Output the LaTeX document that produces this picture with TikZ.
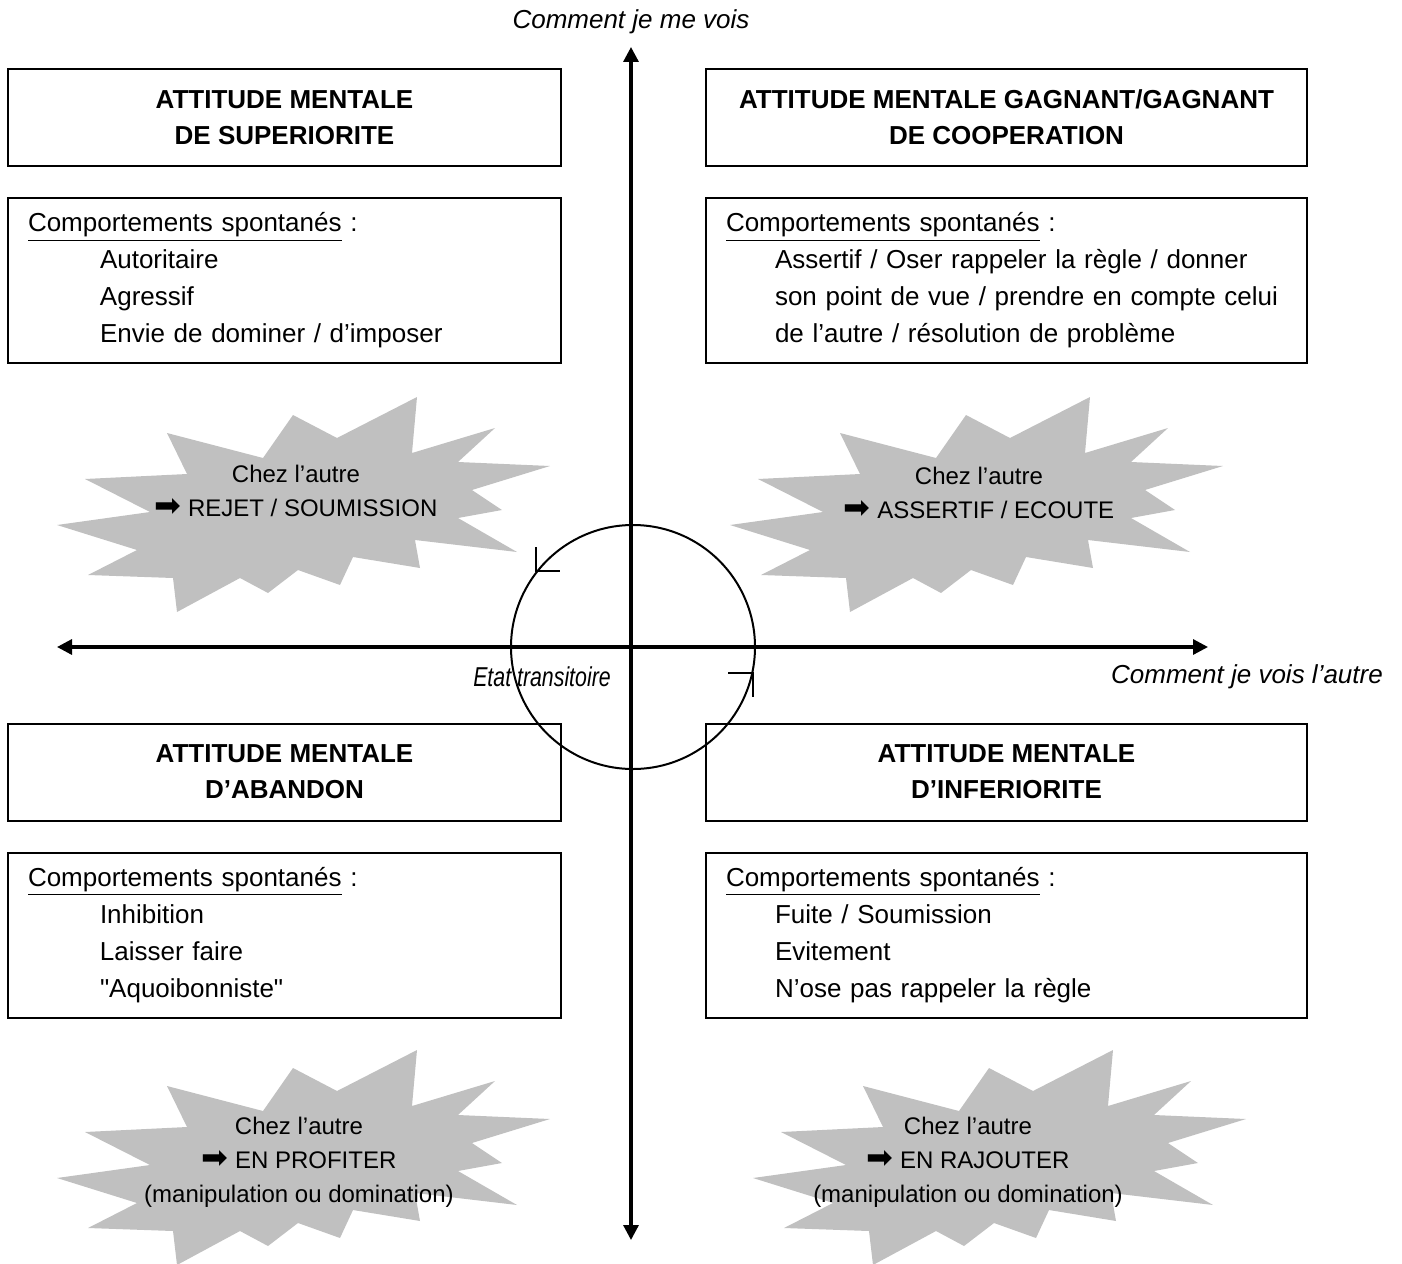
\documentclass[tikz,border=0pt]{standalone}
\usepackage{fontspec}
\setmainfont{Liberation Sans}
\newfontfamily\arrowfont{DejaVu Sans}
\usepackage{graphicx}
\usepackage{tikz}
\usetikzlibrary{
  arrows.meta,
  positioning,
}
\tikzstyle{axis} = [
  {Triangle[length=7.5pt,width=7.5pt]}-{Triangle[length=7.5pt,width=7.5pt]},
  line width=1.6pt,
]
\tikzstyle{titlebox} = [
  draw,
  rectangle,
  line width=1pt,
  minimum height=48.5pt,
  align=center,
  font=\fontsize{13pt}{18pt}\selectfont\bfseries,
]
\tikzstyle{leftbox} = [
  draw,
  rectangle,
  line width=1pt,
  minimum height=82.5pt,
  inner xsep=10pt,
  text width=256.5pt,
  align=left,
  font=\fontsize{13pt}{18.5pt}\selectfont,
]
\tikzstyle{rightbox} = [leftbox, text width=280.5pt]
\tikzstyle{bursttext} = [align=center, font=\fontsize{12pt}{17pt}\selectfont]
\tikzstyle{axislabel} = [font=\fontsize{13pt}{16pt}\selectfont\itshape]
\tikzstyle{tick} = [line width=0.6pt]
\definecolor{burstgray}{RGB}{192, 192, 192}
\tikzset{
  burst/.pic={
    \fill[burstgray] (-129,-58) -- (-33,-33) -- (-3,-76) -- (41,-53) -- (121,-94)
      -- (116,-38) -- (199,-63) -- (162,-29) -- (254,-25) -- (176,-1) -- (206,19)
      -- (162,27) -- (221,61) -- (119,49) -- (124,77) -- (57,66) -- (44,94)
      -- (2,79) -- (-28,102) -- (-56,87) -- (-119,121) -- (-123,87) -- (-208,84)
      -- (-159,59) -- (-239,34) -- (-146,21) -- (-211,-12) -- (-109,-17) -- cycle;
  },
}
\newcommand{\fleche}{{\arrowfont\fontsize{16pt}{17pt}\selectfont ➡}}
\newcommand{\retrait}{\hspace*{36pt}}
\newcommand{\retraitb}{\hspace*{24.5pt}}

\begin{document}
\begin{tikzpicture}[x=0.5pt, y=-0.5pt, node distance=15pt and 71.5pt]
        \useasboundingbox (0,0) rectangle (1402,1263);

        % bursts
        \pic at (296,491) {burst};
        \pic at (969,491) {burst};
        \pic at (296,1144) {burst};
        \pic at (992,1144) {burst};

        % axes
        \coordinate (west) at (57,647);
        \coordinate (east) at (1208,647);
        \coordinate (north) at (631,47);
        \coordinate (south) at (631,1240);
        \draw[axis] (west) -- (east);
        \draw[axis] (south) -- (north);

        \node[axislabel] (meLabel) at (631,22) {Comment je me vois};
        \node[axislabel] (autreLabel) at (1247,677) {Comment je vois l’autre};

        % cycle
        \node[draw,circle,line width=1pt,minimum size=122pt,inner sep=0pt] (cycle) at (633,647) {};
        \coordinate (ulMark) at (536,571);
        \coordinate (lrMark) at (753,673);
        \draw[tick] ([yshift=12pt]ulMark) -- (ulMark) -- ([xshift=12pt]ulMark);
        \draw[tick] ([xshift=-12.5pt]lrMark) -- (lrMark) -- ([yshift=-12pt]lrMark);
        \node[font=\fontsize{13pt}{16pt}\selectfont\itshape] (transit) at (542,677) {\scalebox{0.82}[1.05]{Etat transitoire}};

        % boxes
        \node[titlebox,minimum width=276.5pt] (supTitle) at (284.5,117.5) {ATTITUDE MENTALE\\DE SUPERIORITE};
        \node[leftbox] (supBox) [below=of supTitle] {\underline{Comportements spontanés} :\\
          \retrait Autoritaire\\
          \retrait Agressif\\
          \retrait Envie de dominer / d’imposer};
        \node[titlebox,minimum width=300.5pt] (coopTitle) [right=of supTitle] {ATTITUDE MENTALE GAGNANT/GAGNANT\\DE COOPERATION};
        \node[rightbox] (coopBox) [below=of coopTitle] {\underline{Comportements spontanés} :\\
          \retraitb Assertif / Oser rappeler la règle / donner\\
          \retraitb son point de vue / prendre en compte celui\\
          \retraitb de l’autre / résolution de problème};

        \node[titlebox,minimum width=276.5pt] (abTitle) at (284.5,772) {ATTITUDE MENTALE\\D’ABANDON};
        \node[leftbox] (abBox) [below=of abTitle] {\underline{Comportements spontanés} :\\
          \retrait Inhibition\\
          \retrait Laisser faire\\
          \retrait \textquotedbl Aquoibonniste\textquotedbl};
        \node[titlebox,minimum width=300.5pt] (infTitle) [right=of abTitle] {ATTITUDE MENTALE\\D’INFERIORITE};
        \node[rightbox] (infBox) [below=of infTitle] {\underline{Comportements spontanés} :\\
          \retraitb Fuite / Soumission\\
          \retraitb Evitement\\
          \retraitb N’ose pas rappeler la règle};

        % effects
        \node[bursttext] (supEffect) at (296,491) {Chez l’autre\\\fleche{} REJET / SOUMISSION};
        \node[bursttext] (coopEffect) at (979,493) {Chez l’autre\\\fleche{} ASSERTIF / ECOUTE};
        \node[bursttext] (abEffect) at (299,1162) {Chez l’autre\\\fleche{} EN PROFITER\\(manipulation ou domination)};
        \node[bursttext] (infEffect) at (968,1162) {Chez l’autre\\\fleche{} EN RAJOUTER\\(manipulation ou domination)};
    \end{tikzpicture}
\end{document}
